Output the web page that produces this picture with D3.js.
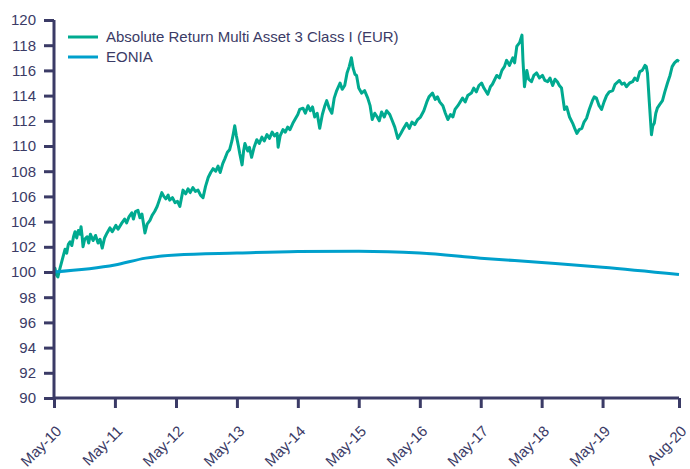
<!DOCTYPE html>
<html>
<head>
<meta charset="utf-8">
<script src="https://cdn.jsdelivr.net/npm/d3@7"></script>
<style>
  body { margin: 0; background: #fff; }
  text { font-family: "Liberation Sans", Arial, sans-serif; }
</style>
</head>
<body>
<div id="graph"></div>
<script>
const seriesNames = ["Absolute Return Multi Asset 3 Class I (EUR)", "EONIA"];

// fund: [date, value]
const fundPoints = [
  ["2010-05-01", 100.0], ["2010-05-07", 100.3], ["2010-05-14", 99.8], ["2010-05-24", 99.6],
  ["2010-06-04", 100.2], ["2010-06-18", 100.9], ["2010-06-28", 101.4], ["2010-07-06", 101.8],
  ["2010-07-16", 101.5], ["2010-07-26", 102.2], ["2010-08-05", 102.4], ["2010-08-16", 102.1],
  ["2010-08-26", 102.8], ["2010-09-04", 103.2], ["2010-09-14", 102.7], ["2010-09-24", 103.3],
  ["2010-10-04", 103.0], ["2010-10-10", 103.6], ["2010-10-16", 102.9], ["2010-10-22", 102.0],
  ["2010-11-01", 102.6], ["2010-11-15", 102.8], ["2010-11-25", 102.3], ["2010-12-05", 103.0],
  ["2010-12-21", 102.5], ["2011-01-05", 102.9], ["2011-01-20", 102.3], ["2011-02-01", 102.6],
  ["2011-02-14", 101.9], ["2011-02-28", 102.7], ["2011-03-15", 103.1], ["2011-04-01", 103.5],
  ["2011-04-15", 103.2], ["2011-05-07", 103.7],
  ["2011-05-20", 103.4], ["2011-06-12", 103.9], ["2011-06-28", 104.2], ["2011-07-10", 103.9],
  ["2011-07-25", 104.4], ["2011-08-10", 104.7], ["2011-08-20", 104.2], ["2011-09-01", 104.8],
  ["2011-09-16", 104.9], ["2011-09-28", 104.3], ["2011-10-10", 104.6], ["2011-10-28", 103.1],
  ["2011-11-10", 103.8], ["2011-11-27", 104.1], ["2011-12-10", 104.5], ["2011-12-25", 104.8],
  ["2012-01-09", 105.2], ["2012-01-22", 105.7], ["2012-02-06", 106.3], ["2012-02-18", 106.0],
  ["2012-03-01", 105.8], ["2012-03-15", 106.1], ["2012-03-24", 105.7], ["2012-04-10", 105.9],
  ["2012-04-25", 105.5], ["2012-05-10", 105.6], ["2012-05-24", 105.2],
  ["2012-06-12", 106.5], ["2012-06-28", 106.2], ["2012-07-12", 106.6], ["2012-07-25", 106.3],
  ["2012-08-10", 106.7], ["2012-08-25", 106.4], ["2012-09-10", 106.5], ["2012-09-25", 106.1],
  ["2012-10-10", 105.9], ["2012-10-25", 106.8], ["2012-11-10", 107.5], ["2012-11-25", 107.9],
  ["2012-12-09", 108.2], ["2012-12-25", 108.0], ["2013-01-08", 108.4], ["2013-01-21", 107.9],
  ["2013-02-05", 108.6], ["2013-02-18", 109.0], ["2013-03-05", 109.5], ["2013-03-18", 109.7],
  ["2013-04-01", 110.4], ["2013-04-10", 111.0], ["2013-04-18", 111.6], ["2013-04-28", 110.8],
  ["2013-05-10", 110.0], ["2013-05-18", 109.4],
  ["2013-06-01", 108.5], ["2013-06-10", 109.6], ["2013-06-18", 110.2], ["2013-07-05", 109.6],
  ["2013-07-15", 109.9], ["2013-07-28", 109.1], ["2013-08-12", 109.9], ["2013-08-28", 110.5],
  ["2013-09-12", 110.2], ["2013-09-28", 110.7], ["2013-10-12", 110.4], ["2013-10-28", 110.9],
  ["2013-11-12", 110.6], ["2013-11-28", 111.1], ["2013-12-12", 110.8], ["2013-12-28", 111.0],
  ["2014-01-03", 109.9], ["2014-01-15", 110.8], ["2014-02-01", 111.3], ["2014-02-15", 111.1],
  ["2014-03-01", 111.5], ["2014-03-15", 111.3], ["2014-04-01", 111.8], ["2014-04-18", 112.2],
  ["2014-05-01", 112.5], ["2014-05-12", 112.9],
  ["2014-06-01", 113.0], ["2014-06-15", 112.6], ["2014-07-01", 113.2], ["2014-07-15", 112.8],
  ["2014-07-28", 113.1], ["2014-08-10", 112.3], ["2014-08-25", 112.6], ["2014-09-09", 111.4],
  ["2014-09-25", 112.5], ["2014-10-10", 113.2], ["2014-10-21", 113.6], ["2014-11-05", 113.0],
  ["2014-11-21", 112.6], ["2014-12-05", 113.8], ["2014-12-20", 114.4], ["2015-01-09", 115.0],
  ["2015-01-22", 114.5], ["2015-02-06", 114.8], ["2015-02-20", 115.8], ["2015-03-05", 116.3],
  ["2015-03-18", 117.0], ["2015-03-28", 116.2], ["2015-04-08", 115.7], ["2015-04-18", 115.6],
  ["2015-05-01", 114.6], ["2015-05-18", 114.2],
  ["2015-06-05", 114.4], ["2015-06-24", 113.8], ["2015-07-08", 113.2], ["2015-07-21", 112.1],
  ["2015-08-05", 112.6], ["2015-08-20", 112.3], ["2015-09-01", 112.0], ["2015-09-15", 112.7],
  ["2015-10-01", 112.3], ["2015-10-15", 112.8], ["2015-11-03", 112.5], ["2015-11-18", 112.0],
  ["2015-12-03", 111.5], ["2015-12-21", 110.6], ["2016-01-08", 111.0], ["2016-01-25", 111.4],
  ["2016-02-12", 111.8], ["2016-02-28", 111.4], ["2016-03-15", 111.9], ["2016-04-01", 111.7],
  ["2016-04-18", 112.1], ["2016-05-05", 112.3],
  ["2016-05-25", 112.8], ["2016-06-12", 113.5], ["2016-06-25", 113.9], ["2016-07-16", 114.2],
  ["2016-08-01", 113.7], ["2016-08-15", 113.9], ["2016-08-28", 113.5], ["2016-09-16", 113.2],
  ["2016-10-01", 112.6], ["2016-10-16", 112.1], ["2016-11-01", 112.5], ["2016-11-15", 112.3],
  ["2016-11-28", 112.9], ["2016-12-15", 113.2], ["2017-01-12", 113.8], ["2017-01-28", 113.5],
  ["2017-02-12", 114.0], ["2017-03-06", 114.2], ["2017-03-20", 114.6], ["2017-04-05", 114.3],
  ["2017-04-20", 114.8], ["2017-05-06", 115.0],
  ["2017-05-20", 114.6], ["2017-06-12", 114.1], ["2017-06-28", 114.7], ["2017-07-10", 114.9],
  ["2017-07-21", 115.2], ["2017-08-05", 115.6], ["2017-08-21", 115.4], ["2017-09-05", 116.0],
  ["2017-09-20", 116.3], ["2017-10-03", 116.8], ["2017-10-20", 116.4], ["2017-11-09", 117.0],
  ["2017-11-20", 116.6], ["2017-12-03", 117.9], ["2017-12-20", 118.2], ["2018-01-03", 118.8],
  ["2018-01-09", 116.8], ["2018-01-18", 114.7], ["2018-02-01", 116.0], ["2018-02-12", 115.3],
  ["2018-03-01", 115.1], ["2018-03-15", 115.6], ["2018-04-01", 115.8], ["2018-04-18", 115.4],
  ["2018-05-06", 115.6],
  ["2018-05-20", 115.2], ["2018-06-06", 115.1], ["2018-06-20", 115.4], ["2018-07-06", 114.8],
  ["2018-07-20", 115.3], ["2018-08-03", 115.1], ["2018-08-15", 114.8], ["2018-08-28", 114.6],
  ["2018-09-15", 112.9], ["2018-09-28", 113.1], ["2018-10-15", 112.3], ["2018-11-03", 111.8],
  ["2018-11-15", 111.4], ["2018-11-28", 111.0], ["2018-12-12", 111.3], ["2018-12-28", 111.4],
  ["2019-01-10", 111.9], ["2019-01-25", 112.2], ["2019-02-10", 112.9], ["2019-03-01", 113.6],
  ["2019-03-12", 113.9], ["2019-03-25", 113.8], ["2019-04-10", 113.2], ["2019-04-25", 112.9],
  ["2019-05-10", 113.5], ["2019-05-25", 114.0], ["2019-06-10", 114.3], ["2019-07-01", 114.4],
  ["2019-07-15", 114.9], ["2019-08-10", 115.2], ["2019-08-25", 114.9], ["2019-09-08", 115.0],
  ["2019-09-21", 114.7], ["2019-10-10", 115.0], ["2019-10-28", 115.1], ["2019-11-10", 115.4],
  ["2019-11-25", 115.2], ["2019-12-10", 115.9], ["2019-12-25", 116.0], ["2020-01-10", 116.4],
  ["2020-01-18", 116.3], ["2020-01-25", 115.8], ["2020-02-05", 113.5], ["2020-02-18", 110.9],
  ["2020-02-26", 111.6], ["2020-03-06", 111.8], ["2020-03-15", 112.6], ["2020-03-24", 113.0],
  ["2020-04-08", 113.3], ["2020-04-24", 113.6], ["2020-05-08", 114.3], ["2020-05-24", 115.0],
  ["2020-06-08", 115.6], ["2020-06-21", 116.3], ["2020-07-05", 116.6], ["2020-07-21", 116.8],
  ["2020-08-01", 116.7]
];

const eoniaDates = [
  "2010-05-01", "2011-05-01", "2011-11-01", "2012-05-01", "2013-05-01", "2014-05-01",
  "2015-05-01", "2016-05-01", "2017-05-01", "2018-05-01", "2019-05-01", "2020-08-01"
];
const eoniaValues = [
  100.0, 100.55, 101.1, 101.35, 101.5, 101.62,
  101.65, 101.5, 101.1, 100.75, 100.38, 99.8
];

const yTicks = [90, 92, 94, 96, 98, 100, 102, 104, 106, 108, 110, 112, 114, 116, 118, 120];
const xTickDates = [
  "2010-05-01", "2011-05-01", "2012-05-01", "2013-05-01", "2014-05-01", "2015-05-01",
  "2016-05-01", "2017-05-01", "2018-05-01", "2019-05-01", "2020-08-01"
];

const width = 690;
const height = 469;
const margin = { top: 20, right: 11, bottom: 71, left: 54 };
const axisColor = "#3b3b66";
const colors = ["#00aa90", "#00a0cc"];

const parse = d3.timeParse("%Y-%m-%d");

const fund = fundPoints.map(p => ({ date: parse(p[0]), value: p[1] }));
const eonia = eoniaDates.map((d, i) => ({ date: parse(d), value: eoniaValues[i] }));

const svg = d3.select("#graph")
              .append("svg")
              .attr("width", width)
              .attr("height", height);

const xScale = d3.scaleTime()
                 .domain([parse(xTickDates[0]), parse(xTickDates[xTickDates.length - 1])])
                 .range([margin.left, width - margin.right]);

const yScale = d3.scaleLinear()
                 .domain([90, 120])
                 .range([height - margin.bottom, margin.top]);

const line = d3.line()
               .x(d => xScale(d.date))
               .y(d => yScale(d.value));

const eoniaLine = d3.line()
                    .curve(d3.curveMonotoneX)
                    .x(d => xScale(d.date))
                    .y(d => yScale(d.value));

svg.append("path")
   .datum(fund)
   .attr("fill", "none")
   .attr("stroke", colors[0])
   .attr("stroke-width", 3)
   .attr("stroke-linejoin", "round")
   .attr("d", line);

svg.append("path")
   .datum(eonia)
   .attr("fill", "none")
   .attr("stroke", colors[1])
   .attr("stroke-width", 3)
   .attr("d", eoniaLine);

// y axis
const yAxis = d3.axisLeft(yScale)
                .tickValues(yTicks)
                .tickSize(10)
                .tickPadding(8);

const gy = svg.append("g")
              .attr("transform", "translate(" + margin.left + ",0)")
              .call(yAxis);

// x axis
const xAxis = d3.axisBottom(xScale)
                .tickValues(xTickDates.map(parse))
                .tickSize(10)
                .tickFormat(d3.timeFormat("%b-%y"));

const gx = svg.append("g")
              .attr("transform", "translate(0," + (height - margin.bottom) + ")")
              .call(xAxis);

// rotated labels, baseline end a little right of and below the tick
gx.selectAll("text")
  .attr("text-anchor", "end")
  .attr("x", 0)
  .attr("y", 0)
  .attr("dy", null)
  .attr("transform", "translate(8,34) rotate(-45)");

[gx, gy].forEach(g => {
  g.select(".domain")
   .attr("stroke", axisColor)
   .attr("stroke-width", 3);
  g.selectAll(".tick line")
   .attr("stroke", axisColor)
   .attr("stroke-width", 3);
  g.selectAll("text")
   .attr("fill", axisColor)
   .style("font-size", "15px")
   .style("font-family", "'Liberation Sans', Arial, sans-serif");
});

gy.select(".domain").attr("d", "M0," + yScale(120) + "V" + yScale(90));
gx.select(".domain").attr("d", "M" + margin.left + ",0H" + (width - margin.right));

// legend
const legend = svg.append("g");

seriesNames.forEach((name, i) => {
  const y = 37 + i * 20;
  legend.append("line")
        .attr("x1", 68)
        .attr("x2", 98)
        .attr("y1", y)
        .attr("y2", y)
        .attr("stroke", colors[i])
        .attr("stroke-width", 3);
  legend.append("text")
        .attr("x", 106)
        .attr("y", y + 5)
        .attr("fill", axisColor)
        .style("font-size", "15px")
        .text(name);
});
</script>
</body>
</html>
